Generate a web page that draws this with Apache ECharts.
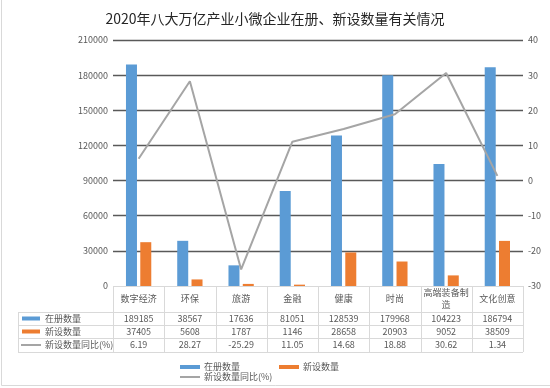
<!DOCTYPE html>
<html><head><meta charset="utf-8">
<script src="https://cdn.jsdelivr.net/npm/echarts@6/dist/echarts.min.js"></script>
<style>html,body{margin:0;padding:0;background:#fff}#c{width:550px;height:388px}</style>
</head><body><div id="c"></div>
<script>
const categories = ['数字经济','环保','旅游','金融','健康','时尚','高端装备制造','文化创意'];
const headerLabels = ['数字经济','环保','旅游','金融','健康','时尚','高端装备制\n造','文化创意'];
const registered = [189185,38567,17636,81051,128539,179968,104223,186794];
const newlyEstablished = [37405,5608,1787,1146,28658,20903,9052,38509];
const yoy = [6.19,28.27,-25.29,11.05,14.68,18.88,30.62,1.34];
const seriesNames = ['在册数量','新设数量','新设数量同比(%)'];
const leftTicks = {min:0, max:210000, interval:30000};
const rightTicks = {min:-30, max:40, interval:10};
const titleText = '2020年八大万亿产业小微企业在册、新设数量有关情况';

const colors = ['#5b9bd5','#ed7d31','#a5a5a5'];
const FONT = '"Noto Sans CJK SC", "Noto Sans", sans-serif';
const TXT = '#595959';
const LINE = '#d9d9d9';

const G = {left:113, right:523, top:40, bottom:286};
const chart = echarts.init(document.getElementById('c'));

const splitColors = [];
for (let v = leftTicks.min; v <= leftTicks.max; v += leftTicks.interval) splitColors.push(v === 0 ? 'rgba(0,0,0,0)' : '#595959');

// table graphic
const rowsY = [286, 312, 325, 338, 352];
const colW = (G.right - G.left) / categories.length;
const gfx = [];
function hline(x1, x2, y) { gfx.push({type:'line', shape:{x1, y1:y, x2, y2:y}, style:{stroke:LINE, lineWidth:1}, silent:true}); }
function vline(x, y1, y2) { gfx.push({type:'line', shape:{x1:x, y1, x2:x, y2}, style:{stroke:LINE, lineWidth:1}, silent:true}); }
function txt(x, y, t, align) { gfx.push({type:'text', x, y, style:{text:t, fill:TXT, font:'9px ' + FONT, align:align || 'center', verticalAlign:'middle', lineHeight:12}, silent:true}); }

hline(G.left, G.right, rowsY[0] + 0.5);
for (let i = 1; i < rowsY.length; i++) hline(18, G.right, rowsY[i] + 0.5);
vline(18.5, rowsY[1], rowsY[4]);
for (let c = 0; c <= categories.length; c++) {
  const x = Math.round(G.left + c * colW) + 0.5;
  vline(x, rowsY[0], rowsY[4]);
}
const rowData = [registered.map(String), newlyEstablished.map(String), yoy.map(v => v.toFixed(2))];
for (let c = 0; c < categories.length; c++) {
  const cx = G.left + (c + 0.5) * colW;
  txt(cx, (rowsY[0] + rowsY[1]) / 2, headerLabels[c]);
  for (let r = 0; r < 3; r++) txt(cx, (rowsY[r + 1] + rowsY[r + 2]) / 2, rowData[r][c]);
}
// table legend keys
for (let r = 0; r < 3; r++) {
  const cy = (rowsY[r + 1] + rowsY[r + 2]) / 2;
  if (r < 2) gfx.push({type:'rect', shape:{x:22, y:cy - 2, width:18, height:4}, style:{fill:colors[r]}, silent:true});
  else gfx.push({type:'line', shape:{x1:21, y1:cy, x2:41, y2:cy}, style:{stroke:colors[r], lineWidth:2}, silent:true});
  txt(45, cy, seriesNames[r], 'left');
}
// bottom legend
const legPos = [[180, 367], [279, 367], [180, 377]];
for (let r = 0; r < 3; r++) {
  const [x, y] = legPos[r];
  if (r < 2) gfx.push({type:'rect', shape:{x, y:y - 2, width:20, height:4}, style:{fill:colors[r]}, silent:true});
  else gfx.push({type:'line', shape:{x1:x, y1:y, x2:x + 20, y2:y}, style:{stroke:colors[r], lineWidth:2}, silent:true});
  txt(x + 24, y, seriesNames[r], 'left');
}
// outer border
gfx.push({type:'line', shape:{x1:1.5, y1:0, x2:1.5, y2:385.5}, style:{stroke:LINE, lineWidth:1}, silent:true});
gfx.push({type:'line', shape:{x1:1.5, y1:385.5, x2:550, y2:385.5}, style:{stroke:LINE, lineWidth:1}, silent:true});

chart.setOption({
  animation:false,
  backgroundColor:'#fff',
  title:{text:titleText, left:'center', top:7, textStyle:{fontFamily:FONT, fontSize:14, fontWeight:'normal', color:'#262626'}},
  grid:{left:G.left, right:550 - G.right, top:G.top, bottom:388 - G.bottom, containLabel:false},
  xAxis:{type:'category', data:categories, axisLine:{show:false}, axisTick:{show:false}, axisLabel:{show:false}},
  yAxis:[
    {type:'value', min:leftTicks.min, max:leftTicks.max, interval:leftTicks.interval,
     axisLine:{show:false}, axisTick:{show:false},
     axisLabel:{color:TXT, fontSize:9, fontFamily:FONT, margin:5, formatter:v => String(v)},
     splitLine:{lineStyle:{color:splitColors, width:1.3}}},
    {type:'value', min:rightTicks.min, max:rightTicks.max, interval:rightTicks.interval,
     axisLine:{show:false}, axisTick:{show:false},
     axisLabel:{color:TXT, fontSize:9, fontFamily:FONT, margin:5, formatter:v => String(v)},
     splitLine:{show:false}}
  ],
  series:[
    {name:seriesNames[0], type:'bar', data:registered, barWidth:11, barGap:'30%', itemStyle:{color:colors[0]}, z:3},
    {name:seriesNames[1], type:'bar', data:newlyEstablished, barWidth:11, itemStyle:{color:colors[1]}, z:3},
    {name:seriesNames[2], type:'line', yAxisIndex:1, data:yoy, showSymbol:false, symbol:'none', lineStyle:{color:colors[2], width:2}, itemStyle:{color:colors[2]}, z:4}
  ],
  graphic:gfx
});
</script></body></html>
